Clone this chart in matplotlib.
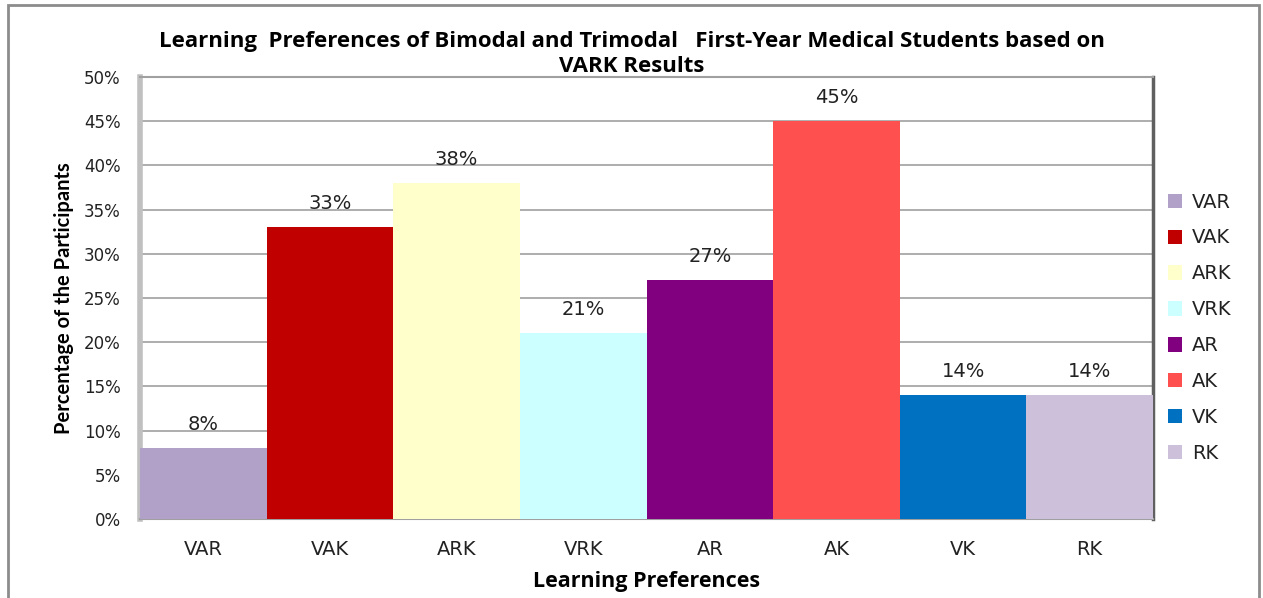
import matplotlib
matplotlib.use('Agg')
import matplotlib.pyplot as plt
from matplotlib.patches import Rectangle, Patch
from matplotlib import ticker

# %% data
categories = ['VAR', 'VAK', 'ARK', 'VRK', 'AR', 'AK', 'VK', 'RK']
values = [8, 33, 38, 21, 27, 45, 14, 14]
colors = ['#B1A0C7', '#C00000', '#FFFFCC', '#CCFFFF', '#800080', '#FF5050', '#0070C0', '#CCC0DA']
yticks = [0, 5, 10, 15, 20, 25, 30, 35, 40, 45, 50]

title = ('Learning  Preferences of Bimodal and Trimodal   First-Year Medical Students based on\n'
         'VARK Results')

# %% plotting
px = 1 / 100
fig = plt.figure(figsize=(1263 * px, 598 * px), dpi=100)
ax = fig.add_axes([140 / 1263, 1 - 519 / 598, (1153 - 140) / 1263, (519 - 77) / 598])

# outer chart border (bottom edge runs off the image)
fig.patches.append(Rectangle((8 / 1263, -0.02), (1259 - 8) / 1263, 1.02 - 5 / 598,
                             transform=fig.transFigure, fill=False,
                             edgecolor='#8c8c8c', linewidth=2))

x = range(len(categories))
ax.bar(x, values, width=1.0, color=colors, zorder=3)
for i, v in enumerate(values):
    ax.text(i, v + 1.6, f'{v}%', ha='center', va='bottom', fontsize=14,
            color='#222222', family='DejaVu Sans')

ax.set_xlim(-0.5, len(categories) - 0.5)
ax.set_ylim(0, 50)
ax.set_yticks(yticks)
ax.yaxis.set_major_formatter(ticker.FuncFormatter(lambda v, p: f'{v:.0f}%'))
ax.set_xticks(list(x))
ax.set_xticklabels(categories)
ax.tick_params(axis='both', length=0, labelsize=12, colors='#222222')
ax.tick_params(axis='x', pad=15, labelsize=14)
ax.tick_params(axis='y', pad=14)
ax.grid(axis='y', color='#a0a0a0', linewidth=1.2, zorder=0)

for s in ['left', 'top', 'bottom']:
    ax.spines[s].set_color('#a0a0a0')
    ax.spines[s].set_linewidth(1.5)
ax.spines['right'].set_color('#606060')
ax.spines['right'].set_linewidth(2.5)
ax.spines['left'].set_linewidth(4)
ax.spines['left'].set_color('#c0c0c0')

ax.set_xlabel('Learning Preferences', fontsize=15.5, fontweight='bold',
              family='Open Sans', labelpad=9)
ax.set_ylabel('Percentage of the Participants', fontsize=14.5, fontweight='bold',
              family='Lato', labelpad=7)
fig.text(0.5, 1 - 54 / 598, title, ha='center', va='center', fontsize=16,
         fontweight='bold', family='Open Sans', linespacing=1.2)

handles = [Patch(facecolor=c, edgecolor='none') for c in colors]
leg = fig.legend(handles, categories, loc='upper left',
                 bbox_to_anchor=(1150 / 1263, 1 - 175 / 598), frameon=False,
                 fontsize=14, handlelength=0.75, handleheight=0.75,
                 handletextpad=0.5, labelspacing=0.87)
for t in leg.get_texts():
    t.set_color('#222222')

fig.savefig('out.png', dpi=100)
